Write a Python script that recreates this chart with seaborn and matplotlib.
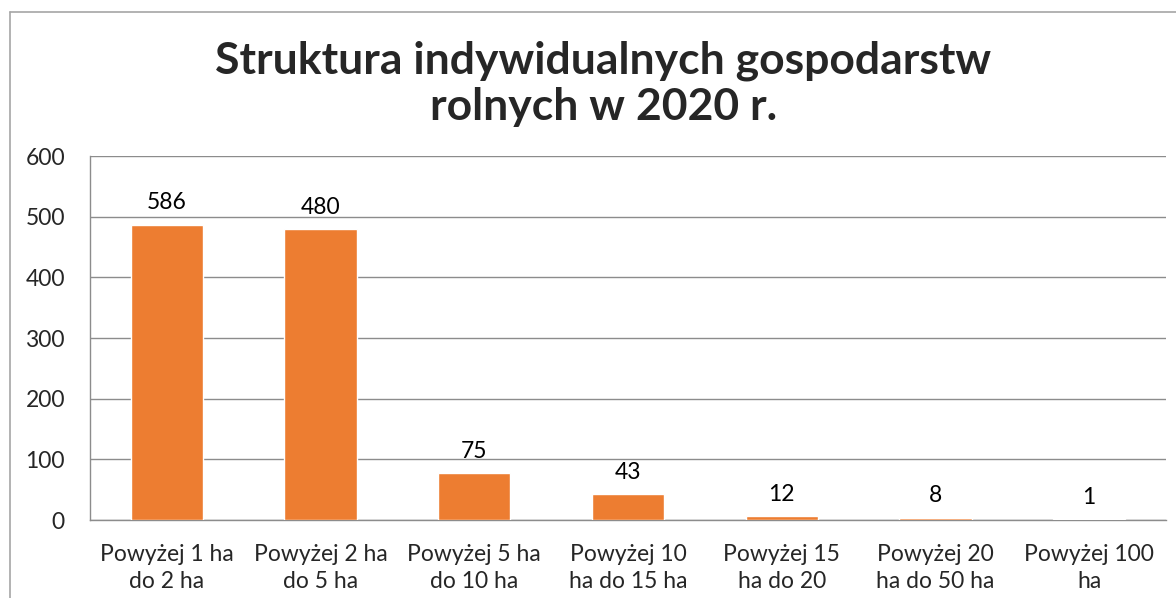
import matplotlib
matplotlib.use("Agg")
import matplotlib.pyplot as plt
import seaborn as sns
import pandas as pd

categories = [
    "Powyżej 1 ha\ndo 2 ha",
    "Powyżej 2 ha\ndo 5 ha",
    "Powyżej 5 ha\ndo 10 ha",
    "Powyżej 10\nha do 15 ha",
    "Powyżej 15\nha do 20",
    "Powyżej 20\nha do 50 ha",
    "Powyżej 100\nha",
]
# bar heights as drawn in the picture
heights = [487, 479, 77, 43, 7, 4, 1]
# data labels as printed above the bars
labels = ["586", "480", "75", "43", "12", "8", "1"]

df = pd.DataFrame({"kategoria": categories, "liczba": heights})

sns.set_theme(style="white")
plt.rcParams["font.family"] = ["Lato", "DejaVu Sans"]

fig = plt.figure(figsize=(11.76, 5.98), dpi=100)
ax = fig.add_axes([0.0765, 0.1304, 0.915, 0.6087])

sns.barplot(data=df, x="kategoria", y="liczba", color="#ED7D31", saturation=1,
            width=0.47, ax=ax, zorder=3)

ax.set_ylim(0, 600)
ax.set_xlim(-0.5, len(categories) - 0.5)
ax.set_yticks(range(0, 601, 100))
ax.yaxis.grid(True, color="#8c8c8c", linewidth=1, zorder=0)
ax.set_xlabel("")
ax.set_ylabel("")

# x ticks sit at the category boundaries, labels in the middle
ax.set_xticks([i - 0.5 for i in range(len(categories) + 1)], minor=True)
ax.tick_params(axis="x", which="minor", length=7, color="#8c8c8c", width=1, direction="out")
ax.tick_params(axis="x", which="major", length=0, labelsize=16.5, pad=17)
ax.tick_params(axis="y", length=6, color="#8c8c8c", width=1, labelsize=16.5, pad=12, direction="out")
for lab in ax.get_xticklabels():
    lab.set_linespacing(1.35)

for side in ["top", "right"]:
    ax.spines[side].set_visible(False)
for side in ["left", "bottom"]:
    ax.spines[side].set_color("#8c8c8c")
    ax.spines[side].set_linewidth(1)

for bar, txt in zip(ax.patches, labels):
    ax.annotate(txt, (bar.get_x() + bar.get_width() / 2, bar.get_height()),
                xytext=(0, 8), textcoords="offset points",
                ha="center", va="bottom", fontsize=16.5, color="#000000")

fig.text(0.513, 0.86, "Struktura indywidualnych gospodarstw\nrolnych w 2020 r.",
         ha="center", va="center", fontsize=32, fontweight="bold", linespacing=1.2)

# chart frame, cut by the image edge on the right and bottom
fig.add_artist(plt.Line2D([10 / 1176, 10 / 1176], [0, 1 - 12 / 598],
                          transform=fig.transFigure, color="#a6a6a6", linewidth=1.2))
fig.add_artist(plt.Line2D([10 / 1176, 1], [1 - 12 / 598, 1 - 12 / 598],
                          transform=fig.transFigure, color="#a6a6a6", linewidth=1.2))

fig.savefig("out.png", dpi=100)
